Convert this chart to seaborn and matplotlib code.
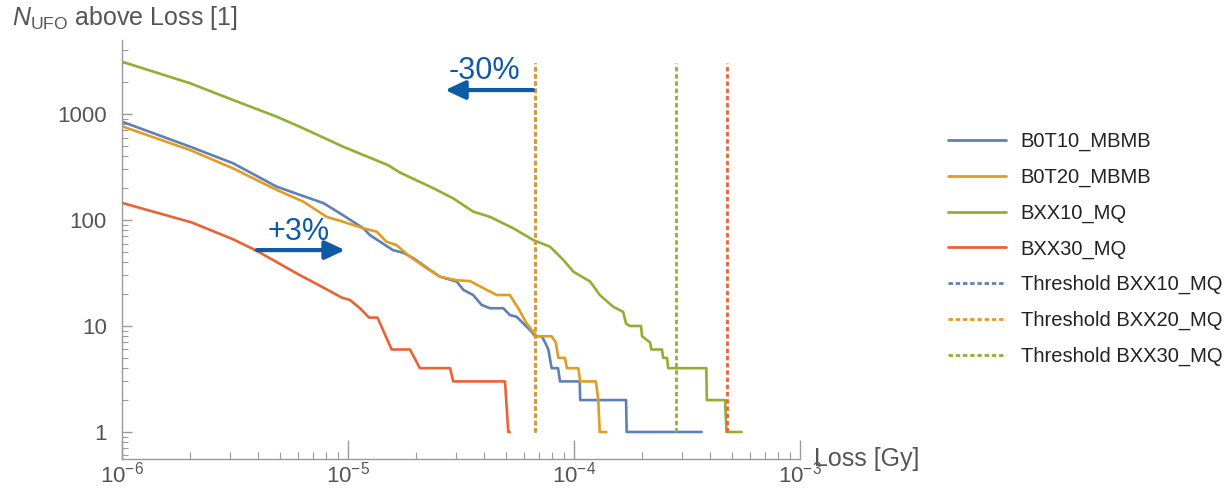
import numpy as np
import pandas as pd
import matplotlib
matplotlib.use("Agg")
import matplotlib.pyplot as plt
from matplotlib.lines import Line2D
from matplotlib.ticker import LogLocator, FixedLocator, NullFormatter
import seaborn as sns

# ---------------- data ----------------
series_names = ["B0T10_MBMB", "B0T20_MBMB", "BXX10_MQ", "BXX30_MQ"]

b0t10_x = [1e-6, 2e-6, 3.1e-6, 4.84e-6, 7.8e-6, 9.5e-6, 1.17e-5, 1.25e-5, 1.58e-5, 1.76e-5,
           1.95e-5, 2.31e-5, 2.55e-5, 3.03e-5, 3.24e-5, 3.58e-5, 3.9e-5, 4.25e-5, 4.87e-5,
           5.2e-5, 5.58e-5, 6.17e-5, 6.5e-5, 6.72e-5, 7.2e-5, 7.45e-5, 7.7e-5, 7.96e-5,
           8.5e-5, 8.67e-5, 1.06e-4, 1.065e-4, 1.7e-4, 1.71e-4, 3.67e-4]
b0t10_y = [846, 492, 343, 206, 144, 111, 83.5, 72, 52, 49,
           43.5, 33.7, 29.2, 26.2, 21.9, 19.6, 15.8, 14.7, 14.7,
           12.7, 12.2, 9.85, 8.8, 8, 8, 7, 6, 4,
           4, 3, 3, 2, 2, 1, 1]

b0t20_x = [1e-6, 2e-6, 3.1e-6, 4.84e-6, 6.34e-6, 8.05e-6, 9.5e-6, 1.17e-5, 1.34e-5, 1.48e-5,
           1.64e-5, 1.88e-5, 2.23e-5, 2.55e-5, 3.03e-5, 3.47e-5, 3.98e-5, 4.55e-5, 5.2e-5,
           5.67e-5, 6.17e-5, 6.6e-5, 6.85e-5, 7.96e-5, 8.3e-5, 8.53e-5, 9.12e-5, 9.3e-5,
           1.045e-4, 1.065e-4, 1.25e-4, 1.28e-4, 1.3e-4, 1.39e-4]
b0t20_y = [766, 457, 307, 192, 149, 107, 96.4, 83.5, 77.6, 62.4,
           58, 45, 35, 29.2, 27, 26.5, 22.7, 19.6, 19.6,
           14.7, 10.6, 8.8, 8, 8, 7, 5, 5, 4,
           4, 3, 3, 2, 1, 1]

bxx10_x = [1e-6, 2e-6, 3.1e-6, 4.84e-6, 6.34e-6, 9.5e-6, 1.17e-5, 1.5e-5, 1.7e-5, 2.39e-5,
           2.92e-5, 3.58e-5, 4.25e-5, 5.39e-5, 6.6e-5, 7.83e-5, 8.97e-5, 9.94e-5, 1.18e-4,
           1.3e-4, 1.49e-4, 1.65e-4, 1.7e-4, 1.77e-4, 1.98e-4, 2.0e-4, 2.17e-4, 2.2e-4,
           2.45e-4, 2.48e-4, 2.58e-4, 2.61e-4, 3.85e-4, 3.87e-4, 4.66e-4, 4.73e-4, 5.52e-4]
bxx10_y = [3115, 1950, 1355, 943, 733, 492, 410, 330, 280, 199,
           160, 120, 107, 83.5, 64.7, 56, 42, 32.5, 26.2,
           19.6, 15.2, 13.6, 10.5, 10, 10, 8, 7, 6,
           6, 5, 5, 4, 4, 2, 2, 1, 1]

bxx30_x = [1e-6, 2.03e-6, 3.1e-6, 3.94e-6, 6.1e-6, 7.4e-6, 9.4e-6, 1.02e-5, 1.13e-5, 1.24e-5,
           1.35e-5, 1.56e-5, 1.88e-5, 2.08e-5, 2.83e-5, 2.92e-5, 4.95e-5, 5.12e-5, 5.2e-5]
bxx30_y = [145, 95, 65.8, 51.3, 30.3, 24.4, 18.5, 17.6, 14.7, 12,
           12, 6, 6, 4, 4, 3, 3, 1, 1]

threshold_names = ["Threshold BXX10_MQ", "Threshold BXX20_MQ", "Threshold BXX30_MQ", None]
threshold_x = [6.72e-5, 6.72e-5, 2.83e-4, 4.73e-4]
threshold_top = 3000

ytick_values = [1, 10, 100, 1000]
ytick_labels = ["1", "10", "100", "1000"]
xtick_values = [1e-6, 1e-5, 1e-4, 1e-3]
xtick_labels = [r"$10^{-6}$", r"$10^{-5}$", r"$10^{-4}$", r"$10^{-3}$"]

# ---------------- style ----------------
colors = ["#5E81B5", "#E19C24", "#8FB032", "#EB6235"]
sns.set_style("ticks")
plt.rcParams["font.family"] = ["Liberation Sans", "DejaVu Sans"]
plt.rcParams["mathtext.fontset"] = "custom"
plt.rcParams["mathtext.rm"] = "Liberation Sans"
plt.rcParams["mathtext.it"] = "Liberation Sans:italic"
plt.rcParams["mathtext.bf"] = "Liberation Sans:bold"

axis_gray = "#9a9a9a"
text_gray = "#555555"
arrow_blue = "#0d5aa7"

frames = []
for name, xs, ys in zip(series_names,
                        [b0t10_x, b0t20_x, bxx10_x, bxx30_x],
                        [b0t10_y, b0t20_y, bxx10_y, bxx30_y]):
    frames.append(pd.DataFrame({"loss": xs, "n": ys, "series": name}))
df = pd.concat(frames, ignore_index=True)

fig = plt.figure(figsize=(12.3, 4.94), dpi=100)
ax = fig.add_axes([122 / 1230, 1 - 459 / 494, (800 - 122) / 1230, (459 - 40) / 494])

sns.lineplot(data=df, x="loss", y="n", hue="series", palette=colors,
             hue_order=series_names, estimator=None, sort=False, legend=False,
             linewidth=1.9, ax=ax)
ax.set_xlabel("")
ax.set_ylabel("")

# threshold lines
th_colors = [colors[0], colors[1], colors[2], colors[3]]
for xv, c in zip(threshold_x, th_colors):
    ax.vlines(xv, 1, threshold_top, colors=c, linestyles=(0, (1.6, 1.0)), linewidth=2.0)

ax.set_xscale("log")
ax.set_yscale("log")
ax.set_xlim(1e-6, 1e-3)
ax.set_ylim(0.556, 4990)

# spines
for s in ["top", "right"]:
    ax.spines[s].set_visible(False)
for s in ["left", "bottom"]:
    ax.spines[s].set_color(axis_gray)
    ax.spines[s].set_linewidth(1.0)

ax.xaxis.set_major_locator(FixedLocator(xtick_values))
ax.set_xticklabels(xtick_labels)
ax.xaxis.set_minor_locator(LogLocator(base=10, subs=np.arange(2, 10)))
ax.xaxis.set_minor_formatter(NullFormatter())
ax.yaxis.set_major_locator(FixedLocator(ytick_values))
ax.set_yticklabels(ytick_labels)
ax.yaxis.set_minor_locator(LogLocator(base=10, subs=np.arange(2, 10)))
ax.yaxis.set_minor_formatter(NullFormatter())

ax.tick_params(axis="both", which="both", bottom=True, left=True, top=False, right=False)
ax.tick_params(axis="x", which="major", direction="in", length=14, width=1,
               color=axis_gray, labelcolor=text_gray, labelsize=16, pad=2)
ax.tick_params(axis="x", which="minor", direction="in", length=5, width=0.8,
               color=axis_gray)
ax.tick_params(axis="y", which="major", direction="in", length=7, width=1,
               color=axis_gray, labelcolor=text_gray, labelsize=16, pad=11)
ax.tick_params(axis="y", which="minor", direction="in", length=4, width=0.8,
               color=axis_gray)

# axis labels
ax.text(1.02, 0.0, "Loss [Gy]", transform=ax.transAxes, ha="left", va="center",
        fontsize=18, color=text_gray)
fig.text(12 / 1230, 1 - 18 / 494, r"$\mathit{N}_{\mathrm{UFO}}$ above Loss [1]",
         ha="left", va="center", fontsize=18, color=text_gray)

# annotations
arrow_style = "-|>,head_length=0.6,head_width=0.28"
ax.annotate("", xy=(2.69e-5, 1683), xytext=(6.59e-5, 1683),
            arrowprops=dict(arrowstyle=arrow_style, lw=3.0, color=arrow_blue,
                            mutation_scale=20, shrinkA=0, shrinkB=0))
ax.text(4.0e-5, 2550, "-30%", ha="center", va="center", fontsize=22, color=arrow_blue)
ax.annotate("", xy=(9.7e-6, 52), xytext=(3.95e-6, 52),
            arrowprops=dict(arrowstyle=arrow_style, lw=3.0, color=arrow_blue,
                            mutation_scale=20, shrinkA=0, shrinkB=0))
ax.text(6.06e-6, 77, "+3%", ha="center", va="center", fontsize=22, color=arrow_blue)

# legend
handles = [Line2D([0], [0], color=c, lw=2) for c in colors]
labels = list(series_names)
for name, c in zip(threshold_names, th_colors):
    if name is None:
        continue
    handles.append(Line2D([0], [0], color=c, lw=2, linestyle=(0, (1.6, 1.0))))
    labels.append(name)
leg = fig.legend(handles, labels, loc="upper left",
                 bbox_to_anchor=(940 / 1230, 1 - 124 / 494), frameon=False,
                 fontsize=14.5, handlelength=2.9, handletextpad=0.7,
                 labelspacing=0.82, borderaxespad=0)
for t in leg.get_texts():
    t.set_color("#222222")

fig.savefig("out.png", dpi=100)
